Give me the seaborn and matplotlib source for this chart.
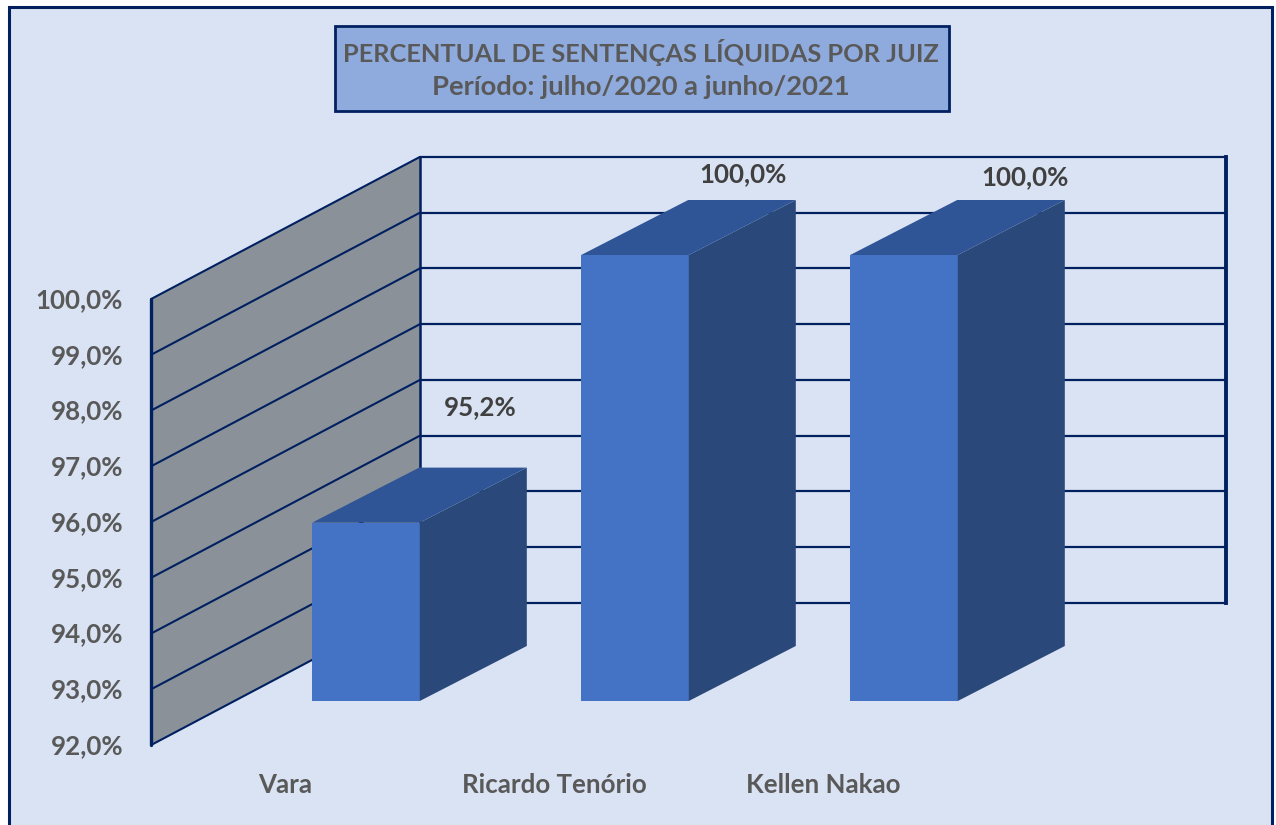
import seaborn as sns
import matplotlib.pyplot as plt
from matplotlib.patches import Rectangle, Polygon
from matplotlib.transforms import Affine2D

juizes = ['Vara', 'Ricardo Tenório', 'Kellen Nakao']
percentuais = [95.2, 100.0, 100.0]
escala = [92, 93, 94, 95, 96, 97, 98, 99, 100]
titulo = 'PERCENTUAL DE SENTENÇAS LÍQUIDAS POR JUIZ'
subtitulo = 'Período: julho/2020 a junho/2021'

NAVY = '#002060'
FUNDO = '#DAE3F3'
W, H = 1276, 825

sns.set_style('white')
plt.rcParams['font.family'] = ['Lato', 'DejaVu Sans']


def pct(v):
    return f'{v:.1f}%'.replace('.', ',')


fig = plt.figure(figsize=(W / 100, H / 100), dpi=100, facecolor='white')

# painel de fundo com moldura (sem linha embaixo, sai da imagem)
fig.add_artist(Rectangle((9 / W, -0.02), 1263 / W, 1.02 - 7 / H, transform=fig.transFigure,
                         facecolor=FUNDO, edgecolor=NAVY, linewidth=2.2, zorder=-1))

# eixo no plano da frente das barras: 1 categoria = 269 px, 1 ponto % = 55.75 px
ax = fig.add_axes([231.5 / W, (H - 701) / H, 807 / W, 446 / H])
ax.patch.set_alpha(0)
sns.barplot(x=juizes, y=percentuais, color='#4472C4', saturation=1, width=0.4,
            edgecolor='none', linewidth=0, ax=ax)
ax.set_xlim(-0.5, 2.5)
ax.set_ylim(92, 100)
ax.set_yticks(escala)
ax.set_yticklabels([pct(v) for v in escala])
sns.despine(ax=ax, left=True, bottom=True)
ax.set_xlabel('')
ax.set_ylabel('')
ax.tick_params(axis='both', length=0, labelcolor='#595959', labelsize=18.6)
ax.tick_params(axis='y', pad=78)
ax.tick_params(axis='x', pad=52)
fig.canvas.draw()
for lb in ax.get_yticklabels():
    lb.set_fontweight('bold')
    lb.set_transform(lb.get_transform() + Affine2D().translate(0, -43))
for lb in ax.get_xticklabels():
    lb.set_fontweight('bold')
    lb.set_transform(lb.get_transform() + Affine2D().translate(-81, 0))

# paredes em perspectiva
PAREDE_X = (-0.799, 0.2007)
FIM_X = 3.197
DESLOC_FRENTE = -0.79
DESLOC_FUNDO = 1.76
base, topo = escala[0], escala[-1]
ax.add_patch(Polygon([(PAREDE_X[0], base + DESLOC_FRENTE), (PAREDE_X[1], base + DESLOC_FUNDO),
                      (PAREDE_X[1], topo + DESLOC_FUNDO), (PAREDE_X[0], topo + DESLOC_FRENTE)],
                     facecolor='#8B9199', edgecolor='none', clip_on=False, zorder=1))
for v in escala:
    ax.plot(PAREDE_X, [v + DESLOC_FRENTE, v + DESLOC_FUNDO], color=NAVY, lw=1.5,
            clip_on=False, zorder=1.5)
    ax.plot([PAREDE_X[1], FIM_X], [v + DESLOC_FUNDO] * 2, color=NAVY, lw=1.6,
            clip_on=False, zorder=1.5)
ax.plot([PAREDE_X[0]] * 2, [base + DESLOC_FRENTE, topo + DESLOC_FRENTE], color=NAVY, lw=2.4,
        clip_on=False, zorder=1.6)
ax.plot([PAREDE_X[1]] * 2, [base + DESLOC_FUNDO, topo + DESLOC_FUNDO], color=NAVY, lw=1.8,
        clip_on=False, zorder=1.6)
ax.plot([FIM_X] * 2, [base + DESLOC_FUNDO, topo + DESLOC_FUNDO], color=NAVY, lw=2.8,
        clip_on=False, zorder=1.6, solid_capstyle='projecting')

# faces lateral e superior de cada barra
DX, DY = 107 / 269, 55 / 55.75
for p in ax.patches[:len(percentuais)]:
    p.set_zorder(3)
    x0 = p.get_x()
    x1 = x0 + p.get_width()
    h = p.get_height()
    ax.add_patch(Polygon([(x1, base), (x1 + DX, base + DY), (x1 + DX, h + DY), (x1, h)],
                         facecolor='#2A4879', edgecolor='none', clip_on=False, zorder=3))
    ax.add_patch(Polygon([(x0, h), (x0 + DX, h + DY), (x1 + DX, h + DY), (x1, h)],
                         facecolor='#2F5597', edgecolor='none', clip_on=False, zorder=3))

# rótulos de dados
rotulo_offset = [(114, 115), (108, 81), (121, 78)]
for i, v in enumerate(percentuais):
    ax.annotate(pct(v), (i, v), xytext=rotulo_offset[i], textcoords='offset pixels',
                ha='center', va='center', fontsize=18.6, fontweight='bold', color='#404040',
                annotation_clip=False, zorder=5)

# caixa do título
fig.add_artist(Rectangle((334.5 / W, 1 - 110.5 / H), 614 / W, 85 / H, transform=fig.transFigure,
                         facecolor='#8FAADC', edgecolor=NAVY, linewidth=2))
fig.text(641 / W, 1 - 52 / H, titulo, ha='center', va='center', fontsize=18.3,
         fontweight='bold', color='#595959')
fig.text(641 / W, 1 - 87 / H, subtitulo, ha='center', va='center', fontsize=19.7,
         fontweight='bold', color='#595959')

fig.savefig('out.png', dpi=100, facecolor='white')
